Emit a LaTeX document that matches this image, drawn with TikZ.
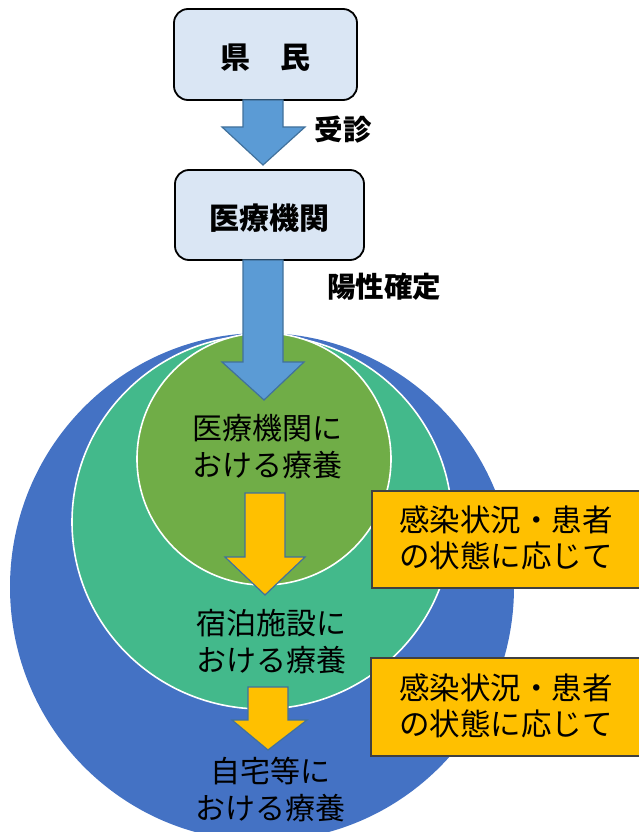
\documentclass[tikz,border=0pt]{standalone}
\usepackage{fontspec}
\newfontfamily\jp{Noto Sans CJK JP}
\definecolor{cblue}{HTML}{4472C4}
\definecolor{cgreen}{HTML}{43B98B}
\definecolor{colive}{HTML}{70AD47}
\definecolor{cbox}{HTML}{DAE6F4}
\definecolor{carrow}{HTML}{5B9BD5}
\definecolor{carrowline}{HTML}{41719C}
\definecolor{cyellow}{HTML}{FFC000}
\tikzset{
  topbox/.style={draw=black, line width=1.8pt, fill=cbox, rounded corners=14pt},
  bluearrow/.style={fill=carrow, draw=carrowline, line width=1.2pt},
  yellowarrow/.style={fill=cyellow, draw=carrowline, line width=1.2pt},
  notebox/.style={draw=black!75, line width=1.2pt, fill=cyellow},
  ring/.style={draw=white, line width=1.6pt},
  txt/.style={font=\jp\fontsize{30}{37}\selectfont, align=center, inner sep=0pt},
  ntxt/.style={font=\jp\fontsize{30.5}{36}\selectfont, align=center, inner sep=0pt},
  btxt/.style={font=\jp\bfseries\fontsize{30}{37}\selectfont, align=center, inner sep=0pt},
  ltxt/.style={font=\jp\bfseries\fontsize{28.5}{32}\selectfont, inner sep=0pt}
}
\begin{document}
\begin{tikzpicture}[x=1pt,y=-1pt]
\useasboundingbox (0,0) rectangle (638,832);
% ellipses
\fill[cblue] (262,587) ellipse [x radius=252, y radius=254];
\draw[ring, fill=cgreen] (262,522) ellipse [x radius=190, y radius=187];
\draw[ring, fill=colive] (264,459) ellipse [x radius=127, y radius=126];
% top boxes
\draw[topbox] (174,9) rectangle (357,100);
\node[btxt] (kenmin) at (265.5,58) {県\hspace{1em}民};
\draw[topbox] (175,170) rectangle (364,260);
\node[btxt] (iryo) at (269.5,218) {医療機関};
% arrow 1
\draw[bluearrow] (243,100) -- (283,100) -- (283,127) -- (305,127) -- (263,165) -- (222,127) -- (243,127) -- cycle;
\node[ltxt] (jushin) at (343,130) {受診};
% arrow 2
\draw[bluearrow] (243,260) -- (283,260) -- (283,362) -- (304,362) -- (264,400) -- (222,362) -- (243,362) -- cycle;
\node[ltxt] (yosei) at (384,287) {陽性確定};
% labels in ellipses
\node[txt] (l1) at (267,447) {医療機関に\\おける療養};
\node[txt] (l2) at (271,642) {宿泊施設に\\おける療養};
\node[txt] (l3) at (270,790) {自宅等に\\おける療養};
% arrow 3
\draw[yellowarrow] (245,493) -- (285,493) -- (285,557) -- (305,557) -- (265,595) -- (225,557) -- (245,557) -- cycle;
% arrow 4
\draw[yellowarrow] (248,687) -- (288,687) -- (288,720) -- (307,720) -- (268,750) -- (232,720) -- (248,720) -- cycle;
% note boxes
\draw[notebox] (372,491) rectangle (640,588);
\node[ntxt] (n1) at (506,538) {感染状況・患者\\の状態に応じて};
\draw[notebox] (371,658) rectangle (640,756);
\node[ntxt] (n2) at (506,706) {感染状況・患者\\の状態に応じて};
\end{tikzpicture}
\end{document}
